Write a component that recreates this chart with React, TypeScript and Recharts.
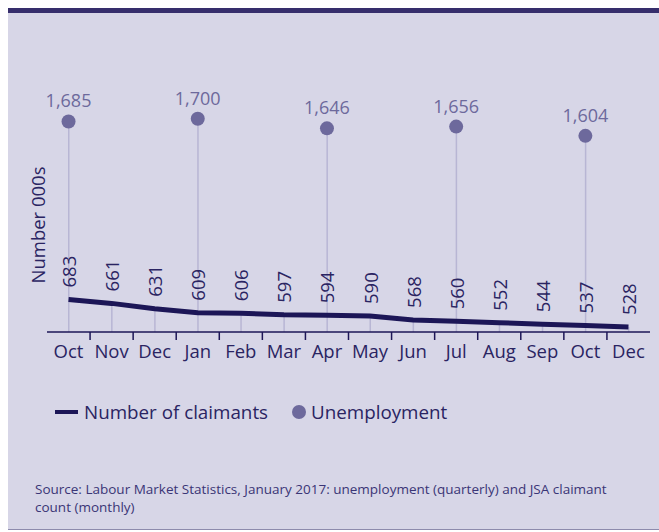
import React from "react";
import {
  ComposedChart,
  Bar,
  Line,
  XAxis,
  YAxis,
  LabelList,
} from "recharts";

// monthly JSA claimant count and quarterly unemployment, thousands
const months = ["Oct", "Nov", "Dec", "Jan", "Feb", "Mar", "Apr", "May", "Jun", "Jul", "Aug", "Sep", "Oct", "Dec"];
const claimants = [683, 661, 631, 609, 606, 597, 594, 590, 568, 560, 552, 544, 537, 528];
const unemployment = [1685, null, null, 1700, null, null, 1646, null, null, 1656, null, null, 1604, null];

const data = months.map((m, i) => ({
  id: i,
  month: m,
  claimants: claimants[i],
  unemployment: unemployment[i],
  // drop line goes up to the dot on quarter months, else to the claimant line
  stem: unemployment[i] ?? claimants[i],
}));

const FONT = "'Open Sans', sans-serif";
const NAVY = "#1c1657";
const TEXT = "#2a2462";
const DOT = "#6d699c";
const STEM = "#b8b6d4";
const BG = "#d7d6e7";

const CHART_W = 659;
const MARGIN = { top: 101, right: 9, bottom: 18, left: 47 };
const STEP = (CHART_W - MARGIN.left - MARGIN.right) / months.length;

const MonthTick = (props: any) => {
  const { x, y, payload } = props;
  const i = payload.value as number;
  return (
    <g>
      <text x={x} y={y + 26} textAnchor="middle" fill={TEXT} fontSize={18.5} fontFamily={FONT}>
        {months[i]}
      </text>
      {i < months.length - 1 && (
        <line x1={x + STEP / 2} x2={x + STEP / 2} y1={y} y2={y + 8} stroke={NAVY} strokeWidth={1.5} />
      )}
    </g>
  );
};

const ClaimLabel = (props: any) => {
  const { x, y, value } = props;
  const ty = y - 12;
  return (
    <text
      x={x}
      y={ty}
      transform={`rotate(-90 ${x} ${ty})`}
      textAnchor="start"
      dominantBaseline="central"
      fill={TEXT}
      fontSize={18.5}
      fontFamily={FONT}
    >
      {value}
    </text>
  );
};

const UnempLabel = (props: any) => {
  const { x, y, value } = props;
  if (value == null) return null;
  return (
    <text x={x} y={y - 14} textAnchor="middle" fill={DOT} fontSize={18} fontFamily={FONT}>
      {Number(value).toLocaleString("en-GB")}
    </text>
  );
};

export default function App() {
  return (
    <div
      style={{
        position: "fixed",
        left: 0,
        top: 0,
        width: 659,
        height: 532,
        background: "#fff",
        fontFamily: FONT,
        overflow: "hidden",
      }}
    >
      <div style={{ position: "absolute", left: 8, top: 8, width: 651, height: 5, background: "#362e6c" }} />
      <div
        style={{
          position: "absolute",
          left: 8,
          top: 13,
          width: 651,
          height: 516,
          background: BG,
          borderBottom: "1.5px solid #8d8bad",
        }}
      />
      <div style={{ position: "absolute", left: 0, top: 0 }}>
        <ComposedChart width={CHART_W} height={380} data={data} margin={MARGIN}>
          <XAxis
            dataKey="id"
            tick={<MonthTick />}
            tickLine={false}
            tickSize={0}
            tickMargin={0}
            height={30}
            axisLine={{ stroke: NAVY, strokeWidth: 1.5 }}
            interval={0}
          />
          <YAxis hide domain={[500, 1800]} />
          <Bar dataKey="stem" barSize={1.5} fill={STEM} isAnimationActive={false} />
          <Line
            dataKey="claimants"
            type="linear"
            stroke={NAVY}
            strokeWidth={5}
            dot={false}
            isAnimationActive={false}
          >
            <LabelList dataKey="claimants" content={<ClaimLabel />} />
          </Line>
          <Line
            dataKey="unemployment"
            stroke="none"
            dot={{ r: 7, fill: DOT, stroke: "none" }}
            isAnimationActive={false}
          >
            <LabelList dataKey="unemployment" content={<UnempLabel />} />
          </Line>
        </ComposedChart>
      </div>
      <div
        style={{
          position: "absolute",
          left: 36.5,
          top: 225,
          transform: "translate(-50%, -50%) rotate(-90deg)",
          whiteSpace: "nowrap",
          color: TEXT,
          fontSize: 18.5,
        }}
      >
        Number 000s
      </div>
      <div style={{ position: "absolute", left: 55, top: 410, width: 23, height: 4, background: NAVY }} />
      <div style={{ position: "absolute", left: 84, top: 400, fontSize: 18.8, lineHeight: "24px", color: TEXT }}>
        Number of claimants
      </div>
      <div
        style={{ position: "absolute", left: 292, top: 405, width: 14, height: 14, borderRadius: 7, background: DOT }}
      />
      <div style={{ position: "absolute", left: 311, top: 400, fontSize: 18.8, lineHeight: "24px", color: TEXT }}>
        Unemployment
      </div>
      <div
        style={{
          position: "absolute",
          left: 35,
          top: 480,
          fontSize: 13.5,
          lineHeight: "18px",
          color: "#3a3576",
        }}
      >
        Source: Labour Market Statistics, January 2017: unemployment (quarterly) and JSA claimant
        <br />
        count (monthly)
      </div>
    </div>
  );
}
